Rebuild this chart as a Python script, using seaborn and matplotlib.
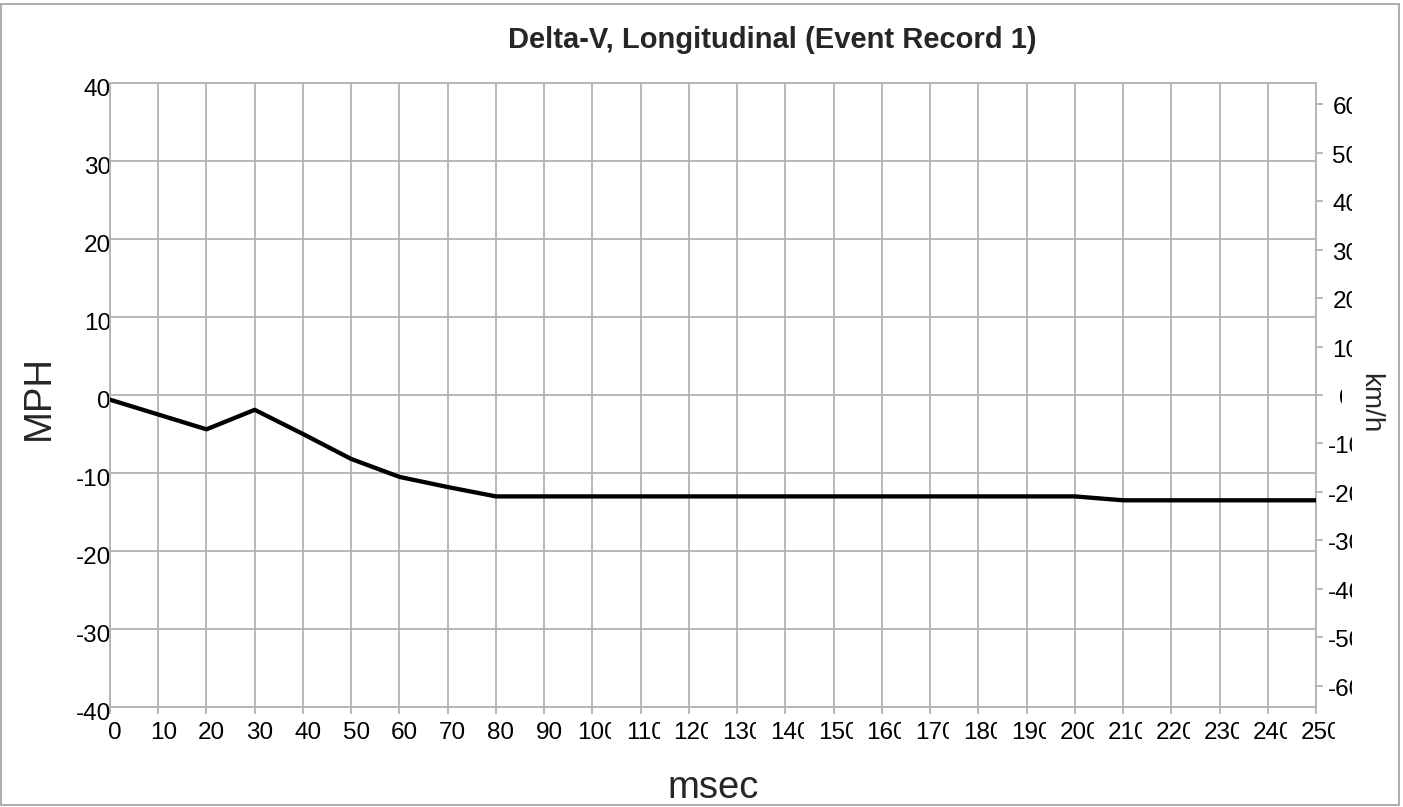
import numpy as np
import pandas as pd
import matplotlib
matplotlib.use('Agg')
import matplotlib.pyplot as plt
import seaborn as sns
from matplotlib.transforms import Bbox, ScaledTranslation
from matplotlib.patches import Rectangle

# ---- data ----
msec = [0, 10, 20, 30, 40, 50, 60, 70, 80, 90, 100, 110, 120, 130, 140,
        150, 160, 170, 180, 190, 200, 210, 220, 230, 240, 250]
mph = [-0.6, -2.5, -4.4, -1.9, -5.0, -8.2, -10.5, -11.8, -13.0, -13.0, -13.0,
       -13.0, -13.0, -13.0, -13.0, -13.0, -13.0, -13.0, -13.0, -13.0, -13.0,
       -13.5, -13.5, -13.5, -13.5, -13.5]
x_ticks = list(range(0, 251, 10))
mph_ticks = list(range(-40, 41, 10))
kmh_ticks = list(range(-60, 61, 10))
title = "Delta-V, Longitudinal (Event Record 1)"
x_label = "msec"
y_label = "MPH"
y2_label = "km/h"
KMH_PER_MPH = 1.609344

sns.set_style('white')
plt.rcParams['font.family'] = ['Liberation Sans', 'DejaVu Sans']

W, H = 1403, 807
DPI = 100
GRID = '#b3b3b3'
fig = plt.figure(figsize=(W / DPI, H / DPI), dpi=DPI)
fig.patch.set_facecolor('white')
ax = fig.add_axes([110 / W, 1 - 707 / H, (1316 - 110) / W, (707 - 83) / H])

df = pd.DataFrame({'msec': msec, 'mph': mph})
sns.lineplot(data=df, x='msec', y='mph', ax=ax, color='black',
             linewidth=3.1, zorder=5)
ax.set_xlim(0, 250)
ax.set_ylim(-40, 40)
ax.set_xticks(x_ticks)
ax.set_xticklabels([str(v) for v in x_ticks])
ax.set_yticks(mph_ticks)
ax.set_yticklabels([str(v) for v in mph_ticks])
ax.grid(True, color=GRID, linewidth=1.3)
ax.set_axisbelow(True)
ax.set_xlabel('')
ax.set_ylabel('')
for s in ax.spines.values():
    s.set_visible(True)
    s.set_color(GRID)
    s.set_linewidth(1.3)
ax.tick_params(axis='x', bottom=True, length=5, width=1.3, color=GRID,
               labelsize=17.5, pad=5.5, labelcolor='black')
ax.tick_params(axis='y', left=False, length=0, labelsize=17.5, pad=-0.7,
               labelcolor='black')

ax2 = ax.twinx()
ax2.set_ylim(-40 * KMH_PER_MPH, 40 * KMH_PER_MPH)
ax2.set_yticks(kmh_ticks)
ax2.set_yticklabels([str(v) for v in kmh_ticks])
ax2.grid(False)
for s in ax2.spines.values():
    s.set_visible(False)
ax2.tick_params(axis='y', right=True, length=5, width=1.3, color=GRID,
                labelsize=17.5, pad=16.5, labelcolor='black')

fig.text(508 / W, 1 - 48.3 / H, title, ha='left', va='baseline',
         fontsize=21, fontweight='bold')
fig.text(713 / W, 1 - 798 / H, x_label, ha='center', va='baseline',
         fontsize=27.5)
fig.text(38.5 / W, 1 - 397 / H, y_label, ha='center', va='center',
         rotation=90, fontsize=27.5)
kmh_txt = fig.text(1370 / W, 1 - 403 / H, y2_label, ha='center', va='center',
                   rotation=270, fontsize=20)

# figure border
fig.patches.append(Rectangle((0.5 / W, 1 - 805 / H), (1399 - 0.5) / W,
                             (805 - 4) / H, transform=fig.transFigure,
                             fill=False, edgecolor='#a6a6a6', linewidth=1.3))

fig.canvas.draw()
renderer = fig.canvas.get_renderer()

# x tick labels: shifted right, clipped to their slot
xoff = ScaledTranslation(5 / DPI, 0, fig.dpi_scale_trans)
for tick in ax.xaxis.get_major_ticks():
    lab = tick.label1
    lab.set_transform(lab.get_transform() + xoff)
    px = ax.transData.transform((tick.get_loc(), 0))[0]
    lab.set_clip_box(Bbox.from_extents(px - 24, 0, px + 19, H))
    lab.set_clip_on(True)

# left labels slightly lower
yoff = ScaledTranslation(0, -4.5 / DPI, fig.dpi_scale_trans)
for tick in ax.yaxis.get_major_ticks():
    lab = tick.label1
    lab.set_transform(lab.get_transform() + yoff)

# right labels: centered, clipped (more where the axis title overlaps)
kbb = kmh_txt.get_window_extent(renderer)
roff = ScaledTranslation(0, -1.5 / DPI, fig.dpi_scale_trans)
for tick in ax2.yaxis.get_major_ticks():
    lab = tick.label2
    lab.set_ha('center')
    lab.set_transform(lab.get_transform() + roff)
    py = ax2.transData.transform((0, tick.get_loc()))[1]
    right = 1352
    if kbb.y0 + 10 <= py <= kbb.y1 - 10:
        right = 1342
    lab.set_clip_box(Bbox.from_extents(0, 0, right, H))
    lab.set_clip_on(True)

fig.savefig('out.png', dpi=DPI, facecolor='white')
